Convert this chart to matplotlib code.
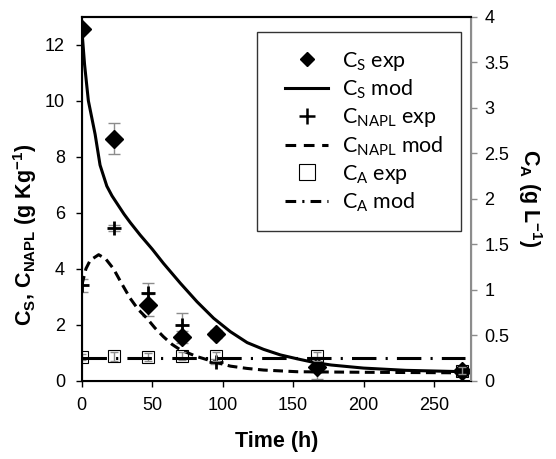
import numpy as np
import matplotlib
matplotlib.use("Agg")
import matplotlib.pyplot as plt
from matplotlib.lines import Line2D
from matplotlib.legend_handler import HandlerLine2D

plt.rcParams['font.family'] = ['Liberation Sans', 'DejaVu Sans']

# experimental sampling times (h)
t_exp = [0, 23, 47, 71, 95, 167, 270]

# C_S experimental (g/kg) and error
cs_exp = [12.55, 8.65, 2.7, 1.56, 1.66, 0.5, 0.35]
cs_err = [0.1, 0.55, 0.4, 0.2, 0.15, 0.2, 0.1]

# C_NAPL experimental (g/kg) and error
cnapl_exp = [3.4, 5.45, 3.12, 1.99, 0.68, 0.45, 0.3]
cnapl_err = [0.22, 0.1, 0.36, 0.44, 0.1, 0.4, 0.15]

# C_A experimental (g/L), right axis
ca_exp = [0.26, 0.27, 0.26, 0.27, 0.27, 0.27, 0.11]
ca_err = [0.03, 0.05, 0.04, 0.04, 0.05, 0.05, 0.04]

# model curves
t_cs_mod = [0, 2, 4.7, 9.5, 13, 17.8, 21.5, 30, 34.4, 41.5, 50, 58, 70, 81.8, 93.6,
            105.5, 117.4, 129, 141, 153, 165, 177, 200, 230, 272]
cs_mod = [12.6, 11.3, 10.0, 8.8, 7.7, 6.95, 6.6, 5.95, 5.65, 5.2, 4.7, 4.19, 3.48, 2.82, 2.23,
          1.75, 1.36, 1.12, 0.92, 0.78, 0.65, 0.56, 0.45, 0.37, 0.32]

t_napl_mod = [0, 3, 6, 12, 17, 22.5, 28, 34.4, 40, 46.2, 52, 58, 64, 70, 81.8, 93.6,
              105.5, 117, 129, 153, 200, 240, 272]
napl_mod = [3.4, 4.0, 4.3, 4.5, 4.35, 4.0, 3.5, 2.94, 2.55, 2.23, 1.88, 1.57, 1.3, 1.1, 0.86, 0.68,
            0.52, 0.44, 0.38, 0.32, 0.3, 0.29, 0.28]

t_ca_mod = [0, 272]
ca_mod = [0.25, 0.25]

fig = plt.figure(figsize=(5.56, 4.59), dpi=100)
ax = fig.add_axes([0.147, 0.1706, 0.6996, 0.793])
ax2 = ax.twinx()

grey = '#8c8c8c'
lw = 2.2

# left axis data
ax.errorbar(t_exp, cs_exp, yerr=cs_err, fmt='none', ecolor=grey, elinewidth=1, capsize=4)
ax.errorbar(t_exp, cnapl_exp, yerr=cnapl_err, fmt='none', ecolor=grey, elinewidth=1, capsize=4)
ax.plot(t_cs_mod, cs_mod, color='black', lw=lw)
ax.plot(t_napl_mod, napl_mod, color='black', lw=lw, dashes=(3.2, 1.8))
ax.plot(t_exp, cs_exp, 'D', color='black', ms=9, ls='none')
ax.plot(t_exp, cnapl_exp, '+', color='black', ms=10, mew=2, ls='none')

# right axis data
ax2.errorbar(t_exp, ca_exp, yerr=ca_err, fmt='none', ecolor=grey, elinewidth=1, capsize=3)
ax2.plot(t_ca_mod, ca_mod, color='black', lw=lw, dashes=(8, 3, 0.7, 3))
ax2.plot(t_exp, ca_exp, 's', mfc='none', mec='black', ms=9, mew=0.8, ls='none')

ax.set_xlim(0, 276)
ax.set_ylim(0, 13)
ax2.set_ylim(0, 4)
ax.set_xticks([0, 50, 100, 150, 200, 250])
ax.set_yticks([0, 2, 4, 6, 8, 10, 12])
ax2.set_yticks([0, 0.5, 1, 1.5, 2, 2.5, 3, 3.5, 4])
ax2.set_yticklabels(['0', '0.5', '1', '1.5', '2', '2.5', '3', '3.5', '4'])

ax.tick_params(axis='x', labelsize=13, length=4, width=1, direction='out', pad=8)
ax.tick_params(axis='y', labelsize=13, length=4, width=1, direction='out', pad=8)
ax2.tick_params(axis='y', labelsize=13, length=4, width=1, direction='out', pad=6,
                colors=grey, labelcolor='black')
ax.spines['left'].set_linewidth(1.5)
ax.spines['bottom'].set_linewidth(1.5)
ax.spines['top'].set_linewidth(1.5)
ax2.spines['top'].set_linewidth(1.5)
ax2.spines['right'].set_color(grey)
ax2.spines['right'].set_linewidth(1.5)

ax.set_xlabel('Time (h)', fontsize=15.5, fontweight='bold', labelpad=12)
ax.set_ylabel(r'C$_\mathregular{S}$, C$_\mathregular{NAPL}$ (g Kg$^\mathregular{-1}$)',
              fontsize=15.5, fontweight='bold')
ax.yaxis.set_label_coords(-0.146, 0.40)
ax.yaxis.label.set_va('center')
ax2.set_ylabel(r'C$_\mathregular{A}$ (g L$^\mathregular{-1}$)', fontsize=15.5,
               fontweight='bold', rotation=-90)
ax2.yaxis.set_label_coords(1.152, 0.5)
ax2.yaxis.label.set_va('center')

handles = [
    Line2D([], [], marker='D', color='black', ls='none', ms=7),
    Line2D([], [], color='black', lw=lw),
    Line2D([], [], marker='+', color='black', ls='none', ms=11, mew=1.8),
    Line2D([], [], color='black', lw=lw, dashes=(3.5, 2.5)),
    Line2D([], [], marker='s', mfc='none', mec='black', ls='none', ms=11, mew=0.8),
    Line2D([], [], color='black', lw=lw, dashes=(3.5, 2, 0.7, 2)),
]
labels = [r'C$_\mathregular{S}$ exp', r'C$_\mathregular{S}$ mod',
          r'C$_\mathregular{NAPL}$ exp', r'C$_\mathregular{NAPL}$ mod',
          r'C$_\mathregular{A}$ exp', r'C$_\mathregular{A}$ mod']
hmap = {h: HandlerLine2D(xpad=0.5) for h in handles}
leg = ax2.legend(handles, labels, loc='upper right', bbox_to_anchor=(0.975, 0.957),
                 prop={'family': 'Lato', 'size': 15.5}, frameon=True, fancybox=False,
                 edgecolor='black', handlelength=2.5, labelspacing=0.23,
                 borderpad=0.8, handletextpad=0.65, borderaxespad=0, handler_map=hmap)
leg.get_frame().set_linewidth(1.0)

fig.savefig('out.png', dpi=100)
